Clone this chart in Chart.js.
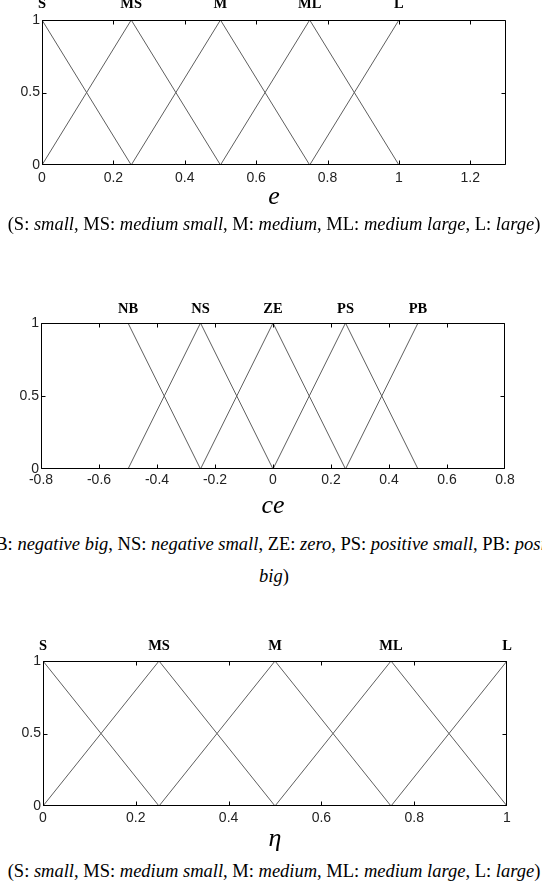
<!DOCTYPE html>
<html>
<head>
<meta charset="utf-8">
<script src="https://cdn.jsdelivr.net/npm/chart.js@4"></script>
<style>
  body { margin: 0; background: #fff; width: 542px; height: 890px; position: relative; overflow: hidden; }
  canvas { position: absolute; left: 0; }
  .cap { position: absolute; left: 0; width: 542px; height: 24px; overflow: hidden;
         font: 18.5px 'Liberation Serif', 'Times New Roman', serif; color: #000; white-space: nowrap; }
  .cap span { position: absolute; left: calc(50% + 3px); transform: translateX(-50%); top: 0; }
</style>
</head>
<body>
<canvas id="cE" width="542" height="215" style="top:0"></canvas>
<canvas id="cCE" width="542" height="222" style="top:300px"></canvas>
<canvas id="cEta" width="542" height="219" style="top:638px"></canvas>

<div class="cap" style="top:214px"><span>(S: <i>small</i>, MS: <i>medium small</i>, M: <i>medium</i>, ML: <i>medium large</i>, L: <i>large</i>)</span></div>
<div class="cap" style="top:534px"><span>(NB: <i>negative big</i>, NS: <i>negative small</i>, ZE: <i>zero</i>, PS: <i>positive small</i>, PB: <i>positive</i></span></div>
<div class="cap" style="top:566px"><span><i>big</i>)</span></div>
<div class="cap" style="top:861px"><span>(S: <i>small</i>, MS: <i>medium small</i>, M: <i>medium</i>, ML: <i>medium large</i>, L: <i>large</i>)</span></div>

<script>
// Error e: linguistic terms and the cores of their triangular sets
const eNames = ['S', 'MS', 'M', 'ML', 'L'];
const eCores = [0, 0.25, 0.5, 0.75, 1];
const eTicks = [0, 0.2, 0.4, 0.6, 0.8, 1, 1.2];
const eTickLabels = ['0', '0.2', '0.4', '0.6', '0.8', '1', '1.2'];

// Change of error ce
const ceNames = ['NB', 'NS', 'ZE', 'PS', 'PB'];
const ceCores = [-0.5, -0.25, 0, 0.25, 0.5];
const ceTicks = [-0.8, -0.6, -0.4, -0.2, 0, 0.2, 0.4, 0.6, 0.8];
const ceTickLabels = ['-0.8', '-0.6', '-0.4', '-0.2', '0', '0.2', '0.4', '0.6', '0.8'];
const ceMarks = [{ x: 0, y: 1 }, { x: 0, y: 0 }];

// Output eta
const etaNames = ['S', 'MS', 'M', 'ML', 'L'];
const etaCores = [0, 0.25, 0.5, 0.75, 1];
const etaTicks = [0, 0.2, 0.4, 0.6, 0.8, 1];
const etaTickLabels = ['0', '0.2', '0.4', '0.6', '0.8', '1'];

// Membership grade axis
const muTicks = [0, 0.5, 1];
const muTickLabels = ['0', '0.5', '1'];

const LINE = '#5e5e5e';
const tickFont = { family: "'Liberation Sans', Arial, sans-serif", size: 14 };
const termFont = { family: "'Liberation Serif', 'Times New Roman', serif", size: 14.5, weight: 'bold' };

// Triangular membership functions: each term peaks at its core and
// falls to zero at the neighbouring cores (shoulders at the ends).
function triangles(cores) {
  return cores.map((c, i) => {
    const pts = [];
    if (i > 0) pts.push({ x: cores[i - 1], y: 0 });
    pts.push({ x: c, y: 1 });
    if (i < cores.length - 1) pts.push({ x: cores[i + 1], y: 0 });
    return {
      type: 'line', data: pts, borderColor: LINE, borderWidth: 1,
      pointRadius: 0, fill: false, tension: 0, xAxisID: 'x', yAxisID: 'y'
    };
  });
}

// Box round the plot with inward tick marks on all four sides
const boxPlugin = {
  id: 'boxTicks',
  afterDatasetsDraw(chart, args, opts) {
    const { ctx, chartArea: a, scales } = chart;
    const L = Math.round(a.left) + 0.5, R = Math.round(a.right) - 0.5;
    const T = Math.round(a.top) + 0.5, B = Math.round(a.bottom) - 0.5;
    const clampX = v => Math.min(R, Math.max(L, v));
    const clampY = v => Math.min(B, Math.max(T, v));
    ctx.save();
    ctx.strokeStyle = '#000';
    ctx.lineWidth = 1;
    ctx.beginPath();
    ctx.rect(L, T, R - L, B - T);
    const len = 4;
    opts.xTicks.forEach(v => {
      const px = clampX(Math.round(scales.x.getPixelForValue(v)) + 0.5);
      ctx.moveTo(px, B); ctx.lineTo(px, B - len);
      ctx.moveTo(px, T); ctx.lineTo(px, T + len);
    });
    muTicks.forEach(v => {
      const py = clampY(Math.round(scales.y.getPixelForValue(v)) + 0.5);
      ctx.moveTo(L, py); ctx.lineTo(L + len, py);
      ctx.moveTo(R, py); ctx.lineTo(R - len, py);
    });
    ctx.stroke();
    ctx.restore();
  }
};

function build(id, cfg) {
  const canvas = document.getElementById(id);
  const H = canvas.height;
  const datasets = triangles(cfg.cores);
  if (cfg.marks) {
    datasets.push({
      type: 'scatter', data: cfg.marks, pointStyle: 'rect', pointRadius: 1.5,
      backgroundColor: '#000', borderColor: '#000', borderWidth: 0, xAxisID: 'x', yAxisID: 'y'
    });
  }
  return new Chart(canvas, {
    type: 'line',
    data: { datasets },
    options: {
      responsive: false, animation: false,
      layout: { padding: { left: 0, right: cfg.rightPad, top: 0, bottom: 0 } },
      plugins: { legend: { display: false }, tooltip: { enabled: false }, boxTicks: { xTicks: cfg.ticks } },
      scales: {
        x: {
          type: 'linear', position: 'bottom', min: cfg.min, max: cfg.max,
          grid: { display: false, drawTicks: false }, border: { display: false },
          afterBuildTicks: s => { s.ticks = cfg.ticks.map(v => ({ value: v })); },
          afterFit: s => { s.height = H - cfg.bottom; },
          ticks: {
            autoSkip: false, maxRotation: 0, padding: cfg.xPad, color: '#222', font: tickFont,
            callback: (v, i) => cfg.tickLabels[i]
          },
          title: {
            display: true, text: cfg.title, color: '#000',
            font: { family: "'Liberation Serif', 'Times New Roman', serif", size: 26, style: 'italic' },
            padding: { top: 0, bottom: cfg.titlePad }
          }
        },
        terms: {
          type: 'linear', position: 'top', min: cfg.min, max: cfg.max,
          grid: { display: false, drawTicks: false }, border: { display: false },
          afterBuildTicks: s => { s.ticks = cfg.cores.map(v => ({ value: v })); },
          afterFit: s => { s.height = cfg.top; },
          ticks: {
            autoSkip: false, maxRotation: 0, padding: cfg.termPad, color: '#000', font: termFont,
            callback: (v, i) => cfg.names[i]
          }
        },
        y: {
          type: 'linear', position: 'left', min: 0, max: 1,
          grid: { display: false, drawTicks: false }, border: { display: false },
          afterBuildTicks: s => { s.ticks = muTicks.map(v => ({ value: v })); },
          afterFit: s => { s.width = cfg.left; },
          ticks: {
            autoSkip: false, padding: 2, color: '#222', font: tickFont,
            callback: (v, i) => muTickLabels[i]
          }
        }
      }
    },
    plugins: [boxPlugin]
  });
}

build('cE', {
  names: eNames, cores: eCores, ticks: eTicks, tickLabels: eTickLabels,
  min: 0, max: 1.3, title: 'e',
  left: 42, rightPad: 36, top: 20, bottom: 165, termPad: 7, xPad: 5, titlePad: 2
});
build('cCE', {
  names: ceNames, cores: ceCores, ticks: ceTicks, tickLabels: ceTickLabels, marks: ceMarks,
  min: -0.8, max: 0.8, title: 'ce',
  left: 41, rightPad: 37, top: 23, bottom: 169, termPad: 5, xPad: 3, titlePad: 0
});
build('cEta', {
  names: etaNames, cores: etaCores, ticks: etaTicks, tickLabels: etaTickLabels,
  min: 0, max: 1, title: 'η',
  left: 43, rightPad: 35, top: 23, bottom: 168, termPad: 6, xPad: 4, titlePad: 2
});
</script>
</body>
</html>
